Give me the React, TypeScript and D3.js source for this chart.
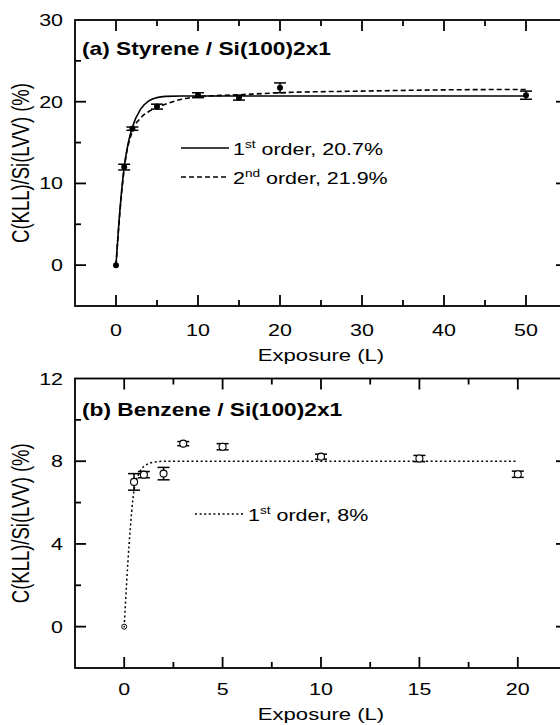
import React from "react";
import * as d3 from "d3";

// ---- Data (a) Styrene ----
const styreneX = [0, 1, 2, 5, 10, 15, 20, 50];
const styreneY = [0, 12.0, 16.7, 19.4, 20.8, 20.5, 21.7, 20.8];
const styreneErr = [0, 0.35, 0.2, 0.3, 0.3, 0.3, 0.6, 0.5];
const firstOrderX = [0, 0.5, 1, 1.5, 2, 3, 4, 5, 6, 8, 10, 50];
const firstOrderY = [0, 7.0, 12.0, 15.0, 16.9, 19.1, 20.1, 20.5, 20.65, 20.7, 20.7, 20.7];
const secondOrderX = [0, 0.5, 1, 2, 3, 4, 5, 6, 8, 10, 15, 20, 30, 40, 50];
const secondOrderY = [0, 6.8, 11.8, 16.4, 18.0, 18.8, 19.3, 19.7, 20.3, 20.6, 20.85, 21.1, 21.3, 21.45, 21.5];
const topXTicks = [0, 10, 20, 30, 40, 50];
const topYTicks = [0, 10, 20, 30];

// ---- Data (b) Benzene ----
const benzeneX = [0, 0.5, 1, 2, 3, 5, 10, 15, 20];
const benzeneY = [0, 7.0, 7.35, 7.4, 8.85, 8.7, 8.22, 8.13, 7.37];
const benzeneErr = [0, 0.4, 0.15, 0.3, 0.1, 0.15, 0.12, 0.15, 0.15];
const benzeneFitX = [0, 0.25, 0.5, 0.75, 1, 1.5, 2, 3, 20];
const benzeneFitY = [0, 4.0, 6.6, 7.4, 7.75, 7.95, 8.0, 8.0, 8.0];
const botXTicks = [0, 5, 10, 15, 20];
const botYTicks = [0, 4, 8, 12];

const FONT = "'Liberation Sans', Arial, sans-serif";
const SX = 1.3;

type Pt = [number, number];
const zip = (xs: number[], ys: number[]): Pt[] => xs.map((x, i) => [x, ys[i]]);

function HText({ x, y, children, anchor = "start", size = 16, weight = "normal" }: any) {
  return (
    <text
      transform={`translate(${x},${y}) scale(${SX},1)`}
      textAnchor={anchor}
      fontSize={size}
      fontWeight={weight}
      fontFamily={FONT}
      fill="#000"
    >
      {children}
    </text>
  );
}

function Frame({ x, y, xDomain, yDomain, left, right, top, bottom, xMajor, xMinorStep, yMajor, yMinorStep, xLabelY, xTitleY }: any) {
  const minorX = d3.range(xDomain[0], xDomain[1] + 1e-9, xMinorStep).filter((v: number) => v > xDomain[0] + 1e-9 && v < xDomain[1] - 1e-9 && !xMajor.includes(v));
  const minorY = d3.range(yDomain[0], yDomain[1] + 1e-9, yMinorStep).filter((v: number) => v > yDomain[0] + 1e-9 && v < yDomain[1] - 1e-9 && !yMajor.includes(v));
  const majL = 11, minL = 6;
  return (
    <g stroke="#000" strokeWidth={1.8} fill="none">
      <rect x={left} y={top} width={right - left} height={bottom - top} />
      {xMajor.map((v: number) => (
        <g key={"xm" + v}>
          <line x1={x(v)} x2={x(v)} y1={bottom} y2={bottom - majL} />
          <line x1={x(v)} x2={x(v)} y1={top} y2={top + majL} />
        </g>
      ))}
      {minorX.map((v: number) => (
        <g key={"xn" + v}>
          <line x1={x(v)} x2={x(v)} y1={bottom} y2={bottom - minL} />
          <line x1={x(v)} x2={x(v)} y1={top} y2={top + minL} />
        </g>
      ))}
      {yMajor.filter((v: number) => v > yDomain[0] && v < yDomain[1]).map((v: number) => (
        <g key={"ym" + v}>
          <line x1={left} x2={left + majL} y1={y(v)} y2={y(v)} />
          <line x1={right} x2={right - majL} y1={y(v)} y2={y(v)} />
        </g>
      ))}
      {minorY.map((v: number) => (
        <g key={"yn" + v}>
          <line x1={left} x2={left + minL} y1={y(v)} y2={y(v)} />
          <line x1={right} x2={right - minL} y1={y(v)} y2={y(v)} />
        </g>
      ))}
      <g stroke="none">
        {xMajor.map((v: number) => (
          <HText key={"xl" + v} x={x(v)} y={xLabelY} anchor="middle" size={16.5}>{String(v)}</HText>
        ))}
        {yMajor.map((v: number) => (
          <HText key={"yl" + v} x={left - 12} y={y(v) + 6} anchor="end" size={16.5}>{String(v)}</HText>
        ))}
        <HText x={(left + right) / 2} y={xTitleY} anchor="middle" size={17}>Exposure (L)</HText>
        <text
          transform={`translate(29,${(top + bottom) / 2}) scale(${SX},1) rotate(-90)`}
          textAnchor="middle"
          fontSize={18.5}
          fontFamily={FONT}
          fill="#000"
        >
          C(KLL)/Si(LVV) (%)
        </text>
      </g>
    </g>
  );
}

function ErrorBars({ x, y, xs, ys, errs, cap = 6 }: any) {
  return (
    <g stroke="#000" strokeWidth={1.5}>
      {xs.map((xv: number, i: number) =>
        errs[i] > 0 ? (
          <g key={i}>
            <line x1={x(xv)} x2={x(xv)} y1={y(ys[i] - errs[i])} y2={y(ys[i] + errs[i])} />
            <line x1={x(xv) - cap} x2={x(xv) + cap} y1={y(ys[i] - errs[i])} y2={y(ys[i] - errs[i])} />
            <line x1={x(xv) - cap} x2={x(xv) + cap} y1={y(ys[i] + errs[i])} y2={y(ys[i] + errs[i])} />
          </g>
        ) : null
      )}
    </g>
  );
}

export default function App() {
  const left = 75, right = 567;
  // Panel (a)
  const aTop = 20, aBottom = 306;
  const xa = d3.scaleLinear().domain([-5, 55]).range([left, right]);
  const ya = d3.scaleLinear().domain([-5, 30]).range([aBottom, aTop]);
  const lineA = d3.line<Pt>().x((d) => xa(d[0])).y((d) => ya(d[1])).curve(d3.curveMonotoneX);

  // Panel (b)
  const bTop = 378.5, bBottom = 668;
  const xb = d3.scaleLinear().domain([-2.5, 22.5]).range([left, right]);
  const yb = d3.scaleLinear().domain([-2, 12]).range([bBottom, bTop]);
  const lineB = d3.line<Pt>().x((d) => xb(d[0])).y((d) => yb(d[1])).curve(d3.curveMonotoneX);

  return (
    <svg width={560} height={725} style={{ position: "absolute", left: 0, top: 0, background: "#fff" }}>
      <rect x={0} y={0} width={560} height={725} fill="#fff" />
      {/* Panel (a) */}
      <Frame
        x={xa} y={ya} xDomain={[-5, 55]} yDomain={[-5, 30]}
        left={left} right={right} top={aTop} bottom={aBottom}
        xMajor={topXTicks} xMinorStep={5} yMajor={topYTicks} yMinorStep={5}
        xLabelY={336} xTitleY={361}
      />
      <path d={lineA(zip(firstOrderX, firstOrderY)) || ""} fill="none" stroke="#000" strokeWidth={1.6} />
      <path d={lineA(zip(secondOrderX, secondOrderY)) || ""} fill="none" stroke="#000" strokeWidth={1.6} strokeDasharray="5,3" />
      <ErrorBars x={xa} y={ya} xs={styreneX} ys={styreneY} errs={styreneErr} cap={6} />
      {styreneX.map((xv, i) => (
        <circle key={i} cx={xa(xv)} cy={ya(styreneY[i])} r={3} fill="#000" />
      ))}
      <HText x={82} y={55} size={17.5} weight="bold">(a) Styrene / Si(100)2x1</HText>
      <line x1={181} x2={229} y1={148} y2={148} stroke="#000" strokeWidth={1.6} />
      <line x1={181} x2={229} y1={177} y2={177} stroke="#000" strokeWidth={1.6} strokeDasharray="5,3" />
      <HText x={233} y={155} size={16.5}>
        1<tspan fontSize={10.5} dy={-7}>st</tspan><tspan dy={7}> order, 20.7%</tspan>
      </HText>
      <HText x={233} y={184} size={16.5}>
        2<tspan fontSize={10.5} dy={-7}>nd</tspan><tspan dy={7}> order, 21.9%</tspan>
      </HText>

      {/* Panel (b) */}
      <Frame
        x={xb} y={yb} xDomain={[-2.5, 22.5]} yDomain={[-2, 12]}
        left={left} right={right} top={bTop} bottom={bBottom}
        xMajor={botXTicks} xMinorStep={2.5} yMajor={botYTicks} yMinorStep={2}
        xLabelY={695} xTitleY={720}
      />
      <path d={lineB(zip(benzeneFitX, benzeneFitY)) || ""} fill="none" stroke="#000" strokeWidth={1.5} strokeDasharray="2,2.6" />
      <ErrorBars x={xb} y={yb} xs={benzeneX} ys={benzeneY} errs={benzeneErr} cap={6} />
      {benzeneX.map((xv, i) =>
        i === 0 ? (
          <g key={i}>
            <circle cx={xb(xv)} cy={yb(benzeneY[i])} r={2.5} fill="#fff" stroke="#000" strokeWidth={1} />
            <circle cx={xb(xv)} cy={yb(benzeneY[i])} r={0.8} fill="#000" />
          </g>
        ) : (
          <circle key={i} cx={xb(xv)} cy={yb(benzeneY[i])} r={3.5} fill="#fff" stroke="#000" strokeWidth={1.1} />
        )
      )}
      <HText x={82} y={416} size={17.5} weight="bold">(b) Benzene / Si(100)2x1</HText>
      <line x1={195} x2={243} y1={514} y2={514} stroke="#000" strokeWidth={1.5} strokeDasharray="2,2.6" />
      <HText x={248} y={521} size={16.5}>
        1<tspan fontSize={10.5} dy={-7}>st</tspan><tspan dy={7}> order, 8%</tspan>
      </HText>
    </svg>
  );
}
